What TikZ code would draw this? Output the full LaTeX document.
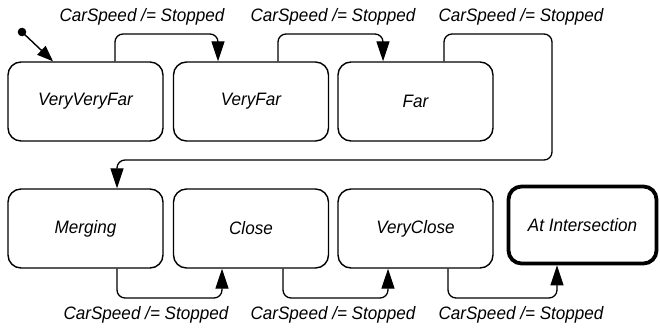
\documentclass[tikz,border=0pt]{standalone}
\usepackage{fontspec}
\setmainfont[FakeStretch=0.95]{Liberation Sans}
\usetikzlibrary{arrows.meta}
\begin{document}
\begin{tikzpicture}[x=1pt,y=-1pt,
  state/.style={draw, rounded corners=13pt, line width=1.4pt, minimum width=155pt, minimum height=79pt, inner sep=0pt, font=\fontsize{18}{21}\selectfont\itshape},
  final/.style={state, line width=3.8pt, minimum width=148pt, minimum height=77pt},
  head/.style={-{Triangle[length=20pt,width=13pt]}},
  trans/.style={line width=1.3pt, rounded corners=8pt, head},
  lbl/.style={font=\fontsize{18}{21}\selectfont\itshape, inner sep=0pt}]
\useasboundingbox (0,0) rectangle (660,332);
\node[state] (b1) at (85.5,101.5) {VeryVeryFar};
\node[state] (b2) at (251,101.5) {VeryFar};
\node[state] (b3) at (415.5,101.5) {Far};
\node[state] (c1) at (85.5,228.5) {Merging};
\node[state] (c2) at (251,228.5) {Close};
\node[state] (c3) at (415.5,228.5) {VeryClose};
\node[final] (c4) at (582.5,225) {At Intersection};
\fill (22,32) circle (4.3pt) coordinate (init);
\draw[line width=1.4pt, -{Triangle[length=16pt,width=12pt]}] (init) -- ([xshift=-32.5pt]b1.north);
\draw[trans] ([xshift=29.5pt]b1.north) |- (167,34) -| ([xshift=-33pt]b2.north);
\draw[trans] ([xshift=27pt]b2.north) |- (330,34) -| ([xshift=-32.5pt]b3.north);
\draw[trans] ([xshift=28.5pt]b3.north) |- (552,34) |- (400,160) -| ([xshift=31.5pt]c1.north);
\draw[trans] ([xshift=31.5pt]c1.south) |- (170,298) -| ([xshift=-29pt]c2.south);
\draw[trans] ([xshift=32pt]c2.south) |- (335,298) -| ([xshift=-27.5pt]c3.south);
\draw[trans] ([xshift=32.5pt]c3.south) |- (500,298) -| ([xshift=-25.5pt]c4.south);
\node[lbl] (l1) at (142,17) {CarSpeed /= Stopped};
\node[lbl] (l2) at (333,17) {CarSpeed /= Stopped};
\node[lbl] (l3) at (521,17) {CarSpeed /= Stopped};
\node[lbl] (l4) at (146,315) {CarSpeed /= Stopped};
\node[lbl] (l5) at (333,315) {CarSpeed /= Stopped};
\node[lbl] (l6) at (521,315) {CarSpeed /= Stopped};
\end{tikzpicture}
\end{document}
